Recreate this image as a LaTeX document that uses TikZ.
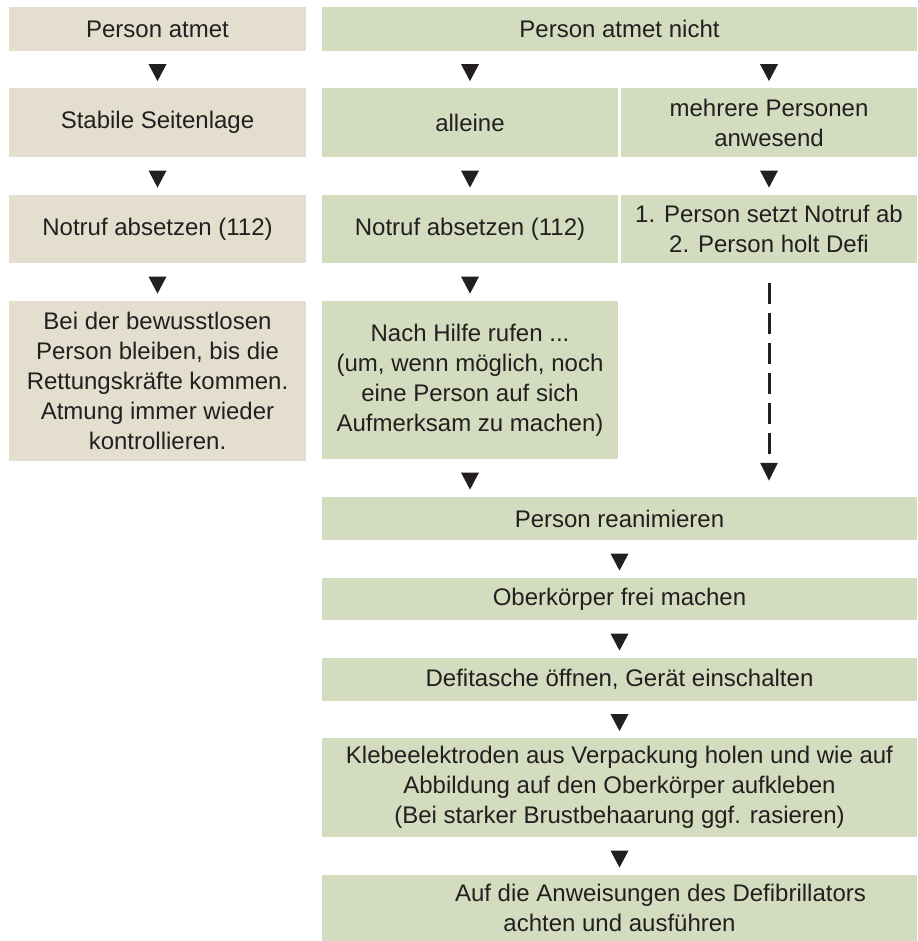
\documentclass[tikz,border=0pt]{standalone}
\usepackage{fontspec}
\setmainfont{Liberation Sans}
\usetikzlibrary{shapes.geometric,arrows.meta}

\definecolor{beige}{RGB}{228,222,206}
\definecolor{sage}{RGB}{211,220,190}
\definecolor{ink}{RGB}{35,31,32}

\tikzset{
  cell/.style={align=center, inner sep=0pt, text=ink,
    font=\fontsize{24}{30}\selectfont},
  leftcell/.style={cell, fill=beige, minimum width=297pt},
  halfcell/.style={cell, fill=sage, minimum width=296pt},
  widecell/.style={cell, fill=sage, minimum width=595pt},
  tri/.style={isosceles triangle, isosceles triangle stretches,
    shape border rotate=270, fill=ink, inner sep=0pt,
    minimum width=18pt, minimum height=17pt},
  dashconn/.style={ink, line width=3pt, dash pattern=on 21pt off 9pt,
    -{Triangle[width=17pt,length=18pt]}}
}

\begin{document}
\begin{tikzpicture}[x=1pt,y=-1pt]
\useasboundingbox (0,0) rectangle (917,941);

% Kopfzeile
\node[leftcell, minimum height=44pt] (atmet) at (157.5,29) {Person atmet};
\node[widecell, minimum height=44pt] (nicht) at (619.5,29) {Person atmet nicht};

% Person atmet
\node[leftcell, minimum height=69pt] (seite) at (157.5,122.5) {Stabile Seitenlage};
\node[leftcell, minimum height=68pt] (notrufL) at (157.5,229) {Notruf absetzen (112)};
\node[leftcell, minimum height=160pt] (bleiben) at (157.5,381)
  {Bei der bewusstlosen\\Person bleiben, bis die\\Rettungskräfte kommen.\\Atmung immer wieder\\kontrollieren.};

% alleine
\node[halfcell, minimum height=69pt] (allein) at (470,122.5) {alleine};
\node[halfcell, minimum height=68pt] (notrufM) at (470,229) {Notruf absetzen (112)};
\node[halfcell, minimum height=158pt] (hilfe) at (470,380)
  {Nach Hilfe rufen ...\\(um, wenn möglich, noch\\eine Person auf sich\\Aufmerksam zu machen)};

% mehrere Personen
\node[halfcell, minimum height=69pt] (mehrere) at (769,122.5) {mehrere Personen\\anwesend};
\node[halfcell, minimum height=68pt] (zwei) at (769,229) {1. Person setzt Notruf ab\\2. Person holt Defi};

% Reanimation
\node[widecell, minimum height=43pt] (rean) at (619.5,518.5) {Person reanimieren};
\node[widecell, minimum height=42pt] (ober) at (619.5,599) {Oberkörper frei machen};
\node[widecell, minimum height=43pt] (defi) at (619.5,679.5) {Defitasche öffnen, Gerät einschalten};
\node[widecell, minimum height=99pt] (kleb) at (619.5,787.5)
  {Klebeelektroden aus Verpackung holen und wie auf\\Abbildung auf den Oberkörper aufkleben\\(Bei starker Brustbehaarung ggf. rasieren)};
\node[widecell, minimum height=66pt] (anw) at (619.5,908)
  {\hspace*{82pt}Auf die Anweisungen des Defibrillators\\achten und ausführen};

% Pfeile
\path (atmet.south) -- node[tri] {} (seite.north);
\path (seite.south) -- node[tri] {} (notrufL.north);
\path (notrufL.south) -- node[tri] {} (bleiben.north);
\path (nicht.south -| allein) -- node[tri] {} (allein.north);
\path (nicht.south -| mehrere) -- node[tri] {} (mehrere.north);
\path (allein.south) -- node[tri] {} (notrufM.north);
\path (mehrere.south) -- node[tri] {} (zwei.north);
\path (notrufM.south) -- node[tri] {} (hilfe.north);
\path (hilfe.south) -- node[tri] {} (hilfe.south |- rean.north);
\draw[dashconn] ([yshift=-20pt]zwei.south) -- ([yshift=16pt]zwei.south |- rean.north);
\path (rean.south) -- node[tri] {} (ober.north);
\path (ober.south) -- node[tri] {} (defi.north);
\path (defi.south) -- node[tri] {} (kleb.north);
\path (kleb.south) -- node[tri] {} (anw.north);
\end{tikzpicture}
\end{document}
